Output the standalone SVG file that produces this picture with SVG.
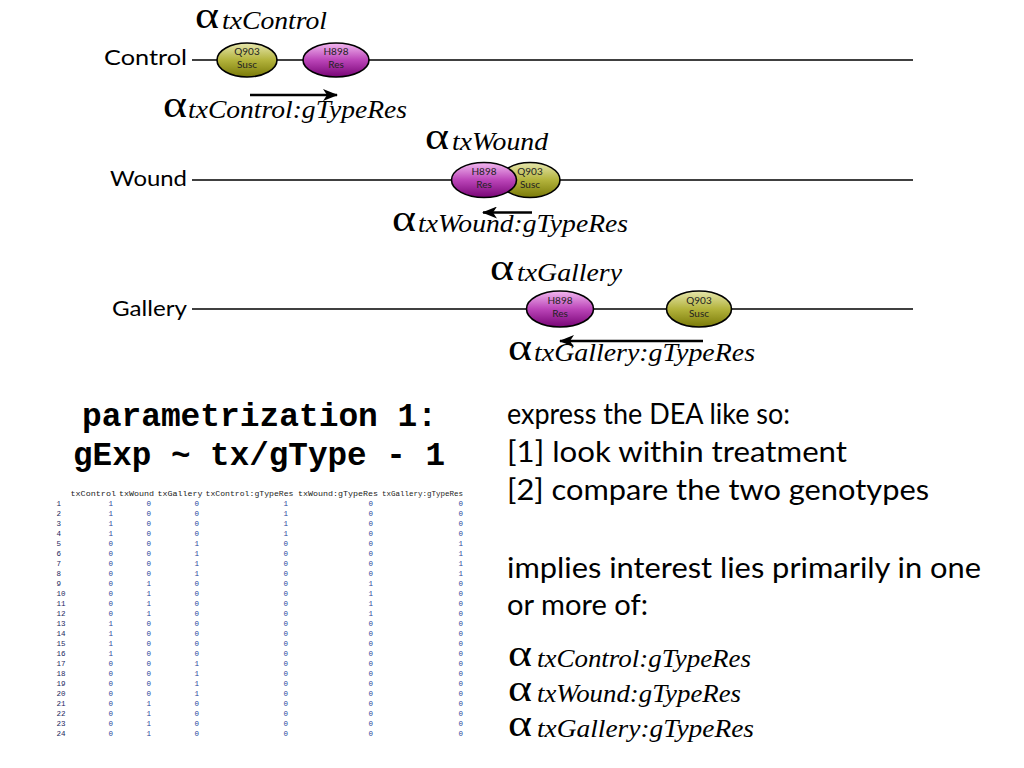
<svg xmlns="http://www.w3.org/2000/svg" width="1024" height="768" viewBox="0 0 1024 768">
<defs>
<linearGradient id="olive" x1="0" y1="0" x2="0" y2="1">
<stop offset="0" stop-color="#e6e6ad"/><stop offset="0.5" stop-color="#b3b33c"/><stop offset="1" stop-color="#7a7a08"/>
</linearGradient>
<linearGradient id="purple" x1="0" y1="0" x2="0" y2="1">
<stop offset="0" stop-color="#f2b8f0"/><stop offset="0.5" stop-color="#bb45b8"/><stop offset="1" stop-color="#780476"/>
</linearGradient>
<marker id="ah" markerUnits="userSpaceOnUse" markerWidth="16" markerHeight="12" refX="14" refY="6" orient="auto">
<path d="M0,0 L15,6 L0,12 L4,6 z" fill="#000"/>
</marker>
<style>
.track{stroke:#000;stroke-width:1.3;fill:none}
.arr{stroke:#000;stroke-width:2.6;fill:none;marker-end:url(#ah)}
.ell{stroke:#000;stroke-width:1.6}
.et{font-family:"Lato","Open Sans",sans-serif;font-size:10px;fill:#222;text-anchor:middle}
.lbl{font-family:"Lato","Open Sans",sans-serif;font-size:22px;fill:#000}
.body{font-family:"Lato","Open Sans",sans-serif;font-size:28px;fill:#000}
.mono{font-family:"Liberation Mono","Courier New",monospace;font-size:33px;font-weight:bold;fill:#000}
.al{font-family:"Liberation Serif","Times New Roman",serif;font-size:38px;fill:#000}
.sub{font-family:"Liberation Serif","Times New Roman",serif;font-style:italic;font-size:25px;fill:#000}
.th{font-family:"Liberation Mono","Courier New",monospace;font-size:8px;fill:#222}
.rn{font-family:"Liberation Mono","Courier New",monospace;font-size:7.5px;fill:#1c2660}
.tv{font-family:"Liberation Mono","Courier New",monospace;font-size:7.5px;fill:#27429a;text-anchor:end}
</style>
</defs>
<rect width="1024" height="768" fill="#fff"/>

<g id="tracks">
<line class="track" x1="192" y1="60" x2="913" y2="60"/>
<line class="track" x1="192" y1="180" x2="913" y2="180"/>
<line class="track" x1="192" y1="309" x2="913" y2="309"/>
</g>

<g id="track-labels">
<text class="lbl" x="104" y="65" textLength="83" lengthAdjust="spacingAndGlyphs">Control</text>
<text class="lbl" x="110" y="186" textLength="77" lengthAdjust="spacingAndGlyphs">Wound</text>
<text class="lbl" x="112" y="316" textLength="75" lengthAdjust="spacingAndGlyphs">Gallery</text>
</g>

<g id="connectors">
<line class="arr" x1="250" y1="95" x2="337" y2="95"/>
<line class="arr" x1="532" y1="212.5" x2="483" y2="212.5"/>
<line class="arr" x1="703" y1="341" x2="560" y2="341"/>
</g>

<g id="control-q903">
<ellipse class="ell" cx="247" cy="60" rx="30" ry="17" fill="url(#olive)"/>
<text class="et" x="247" y="55">Q903</text><text class="et" x="247" y="68">Susc</text>
</g>
<g id="control-h898">
<ellipse class="ell" cx="336" cy="60" rx="33" ry="17" fill="url(#purple)"/>
<text class="et" x="336" y="55">H898</text><text class="et" x="336" y="68">Res</text>
</g>

<g id="wound-q903">
<ellipse class="ell" cx="530" cy="180" rx="30" ry="17.5" fill="url(#olive)"/>
<text class="et" x="530" y="175">Q903</text><text class="et" x="530" y="188">Susc</text>
</g>
<g id="wound-h898">
<ellipse class="ell" cx="484" cy="180" rx="32.5" ry="17.5" fill="url(#purple)"/>
<text class="et" x="484" y="175">H898</text><text class="et" x="484" y="188">Res</text>
</g>

<g id="gallery-h898">
<ellipse class="ell" cx="560" cy="309" rx="33.5" ry="18" fill="url(#purple)"/>
<text class="et" x="560" y="304">H898</text><text class="et" x="560" y="317">Res</text>
</g>
<g id="gallery-q903">
<ellipse class="ell" cx="699" cy="309" rx="32.5" ry="18" fill="url(#olive)"/>
<text class="et" x="699" y="304">Q903</text><text class="et" x="699" y="317">Susc</text>
</g>

<g id="alpha-labels">
<text class="al" x="195" y="28" textLength="24" lengthAdjust="spacingAndGlyphs">α</text><text class="sub" x="222" y="29" textLength="105" lengthAdjust="spacingAndGlyphs">txControl</text>
<text class="al" x="163" y="117" textLength="24" lengthAdjust="spacingAndGlyphs">α</text><text class="sub" x="188" y="117.5" textLength="219" lengthAdjust="spacingAndGlyphs">txControl:gTypeRes</text>
<text class="al" x="425" y="149" textLength="24" lengthAdjust="spacingAndGlyphs">α</text><text class="sub" x="452" y="150" textLength="96" lengthAdjust="spacingAndGlyphs">txWound</text>
<text class="al" x="392" y="231" textLength="24" lengthAdjust="spacingAndGlyphs">α</text><text class="sub" x="418" y="231.5" textLength="210" lengthAdjust="spacingAndGlyphs">txWound:gTypeRes</text>
<text class="al" x="490" y="280" textLength="24" lengthAdjust="spacingAndGlyphs">α</text><text class="sub" x="517" y="281" textLength="105" lengthAdjust="spacingAndGlyphs">txGallery</text>
<text class="al" x="508" y="360" textLength="24" lengthAdjust="spacingAndGlyphs">α</text><text class="sub" x="534" y="361" textLength="221" lengthAdjust="spacingAndGlyphs">txGallery:gTypeRes</text>
</g>

<g id="formula">
<text class="mono" x="82" y="426" textLength="355" lengthAdjust="spacingAndGlyphs">parametrization 1:</text>
<text class="mono" x="73" y="465" textLength="372" lengthAdjust="spacingAndGlyphs">gExp ~ tx/gType - 1</text>
</g>

<g id="explanation">
<text class="body" x="507" y="424" textLength="283" lengthAdjust="spacingAndGlyphs">express the DEA like so:</text>
<text class="body" x="507" y="462" textLength="340" lengthAdjust="spacingAndGlyphs">[1] look within treatment</text>
<text class="body" x="507" y="500" textLength="422" lengthAdjust="spacingAndGlyphs">[2] compare the two genotypes</text>
<text class="body" x="507" y="578" textLength="474" lengthAdjust="spacingAndGlyphs">implies interest lies primarily in one</text>
<text class="body" x="507" y="615" textLength="141" lengthAdjust="spacingAndGlyphs">or more of:</text>
<text class="al" x="508" y="666" textLength="24" lengthAdjust="spacingAndGlyphs">α</text><text class="sub" x="537" y="667" textLength="214" lengthAdjust="spacingAndGlyphs">txControl:gTypeRes</text>
<text class="al" x="508" y="701" textLength="24" lengthAdjust="spacingAndGlyphs">α</text><text class="sub" x="537" y="702" textLength="204" lengthAdjust="spacingAndGlyphs">txWound:gTypeRes</text>
<text class="al" x="508" y="736" textLength="24" lengthAdjust="spacingAndGlyphs">α</text><text class="sub" x="537" y="737" textLength="217" lengthAdjust="spacingAndGlyphs">txGallery:gTypeRes</text>
</g>

<g id="design-matrix">
<text class="th" x="70.5" y="496" textLength="45.5" lengthAdjust="spacingAndGlyphs">txControl</text>
<text class="th" x="119" y="496" textLength="35" lengthAdjust="spacingAndGlyphs">txWound</text>
<text class="th" x="157.5" y="496" textLength="45" lengthAdjust="spacingAndGlyphs">txGallery</text>
<text class="th" x="205.5" y="496" textLength="88" lengthAdjust="spacingAndGlyphs">txControl:gTypeRes</text>
<text class="th" x="298" y="496" textLength="80" lengthAdjust="spacingAndGlyphs">txWound:gTypeRes</text>
<text class="th" x="382" y="496" textLength="81" lengthAdjust="spacingAndGlyphs">txGallery:gTypeRes</text>
<g class="rn">
<text x="56.5" y="506">1</text><text x="56.5" y="516">2</text><text x="56.5" y="526">3</text><text x="56.5" y="536">4</text>
<text x="56.5" y="546">5</text><text x="56.5" y="556">6</text><text x="56.5" y="566">7</text><text x="56.5" y="576">8</text>
<text x="56.5" y="586">9</text><text x="56.5" y="596">10</text><text x="56.5" y="606">11</text><text x="56.5" y="616">12</text>
<text x="56.5" y="626">13</text><text x="56.5" y="636">14</text><text x="56.5" y="646">15</text><text x="56.5" y="656">16</text>
<text x="56.5" y="666">17</text><text x="56.5" y="676">18</text><text x="56.5" y="686">19</text><text x="56.5" y="696">20</text>
<text x="56.5" y="706">21</text><text x="56.5" y="716">22</text><text x="56.5" y="726">23</text><text x="56.5" y="736">24</text>
</g>
<g class="tv">
<text x="113" y="506">1</text><text x="151" y="506">0</text><text x="199" y="506">0</text><text x="288" y="506">1</text><text x="373" y="506">0</text><text x="463" y="506">0</text>
<text x="113" y="516">1</text><text x="151" y="516">0</text><text x="199" y="516">0</text><text x="288" y="516">1</text><text x="373" y="516">0</text><text x="463" y="516">0</text>
<text x="113" y="526">1</text><text x="151" y="526">0</text><text x="199" y="526">0</text><text x="288" y="526">1</text><text x="373" y="526">0</text><text x="463" y="526">0</text>
<text x="113" y="536">1</text><text x="151" y="536">0</text><text x="199" y="536">0</text><text x="288" y="536">1</text><text x="373" y="536">0</text><text x="463" y="536">0</text>
<text x="113" y="546">0</text><text x="151" y="546">0</text><text x="199" y="546">1</text><text x="288" y="546">0</text><text x="373" y="546">0</text><text x="463" y="546">1</text>
<text x="113" y="556">0</text><text x="151" y="556">0</text><text x="199" y="556">1</text><text x="288" y="556">0</text><text x="373" y="556">0</text><text x="463" y="556">1</text>
<text x="113" y="566">0</text><text x="151" y="566">0</text><text x="199" y="566">1</text><text x="288" y="566">0</text><text x="373" y="566">0</text><text x="463" y="566">1</text>
<text x="113" y="576">0</text><text x="151" y="576">0</text><text x="199" y="576">1</text><text x="288" y="576">0</text><text x="373" y="576">0</text><text x="463" y="576">1</text>
<text x="113" y="586">0</text><text x="151" y="586">1</text><text x="199" y="586">0</text><text x="288" y="586">0</text><text x="373" y="586">1</text><text x="463" y="586">0</text>
<text x="113" y="596">0</text><text x="151" y="596">1</text><text x="199" y="596">0</text><text x="288" y="596">0</text><text x="373" y="596">1</text><text x="463" y="596">0</text>
<text x="113" y="606">0</text><text x="151" y="606">1</text><text x="199" y="606">0</text><text x="288" y="606">0</text><text x="373" y="606">1</text><text x="463" y="606">0</text>
<text x="113" y="616">0</text><text x="151" y="616">1</text><text x="199" y="616">0</text><text x="288" y="616">0</text><text x="373" y="616">1</text><text x="463" y="616">0</text>
<text x="113" y="626">1</text><text x="151" y="626">0</text><text x="199" y="626">0</text><text x="288" y="626">0</text><text x="373" y="626">0</text><text x="463" y="626">0</text>
<text x="113" y="636">1</text><text x="151" y="636">0</text><text x="199" y="636">0</text><text x="288" y="636">0</text><text x="373" y="636">0</text><text x="463" y="636">0</text>
<text x="113" y="646">1</text><text x="151" y="646">0</text><text x="199" y="646">0</text><text x="288" y="646">0</text><text x="373" y="646">0</text><text x="463" y="646">0</text>
<text x="113" y="656">1</text><text x="151" y="656">0</text><text x="199" y="656">0</text><text x="288" y="656">0</text><text x="373" y="656">0</text><text x="463" y="656">0</text>
<text x="113" y="666">0</text><text x="151" y="666">0</text><text x="199" y="666">1</text><text x="288" y="666">0</text><text x="373" y="666">0</text><text x="463" y="666">0</text>
<text x="113" y="676">0</text><text x="151" y="676">0</text><text x="199" y="676">1</text><text x="288" y="676">0</text><text x="373" y="676">0</text><text x="463" y="676">0</text>
<text x="113" y="686">0</text><text x="151" y="686">0</text><text x="199" y="686">1</text><text x="288" y="686">0</text><text x="373" y="686">0</text><text x="463" y="686">0</text>
<text x="113" y="696">0</text><text x="151" y="696">0</text><text x="199" y="696">1</text><text x="288" y="696">0</text><text x="373" y="696">0</text><text x="463" y="696">0</text>
<text x="113" y="706">0</text><text x="151" y="706">1</text><text x="199" y="706">0</text><text x="288" y="706">0</text><text x="373" y="706">0</text><text x="463" y="706">0</text>
<text x="113" y="716">0</text><text x="151" y="716">1</text><text x="199" y="716">0</text><text x="288" y="716">0</text><text x="373" y="716">0</text><text x="463" y="716">0</text>
<text x="113" y="726">0</text><text x="151" y="726">1</text><text x="199" y="726">0</text><text x="288" y="726">0</text><text x="373" y="726">0</text><text x="463" y="726">0</text>
<text x="113" y="736">0</text><text x="151" y="736">1</text><text x="199" y="736">0</text><text x="288" y="736">0</text><text x="373" y="736">0</text><text x="463" y="736">0</text>
</g>
</g>
</svg>
